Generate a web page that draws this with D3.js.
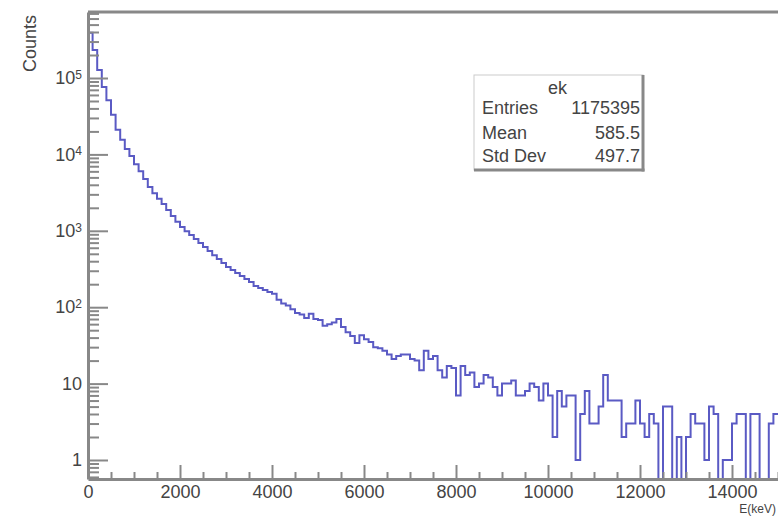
<!DOCTYPE html>
<html>
<head>
<meta charset="utf-8">
<script src="https://cdn.jsdelivr.net/npm/d3@7"></script>
<style>
  body { margin: 0; background: #fff; }
  text { font-family: "Liberation Sans", Arial, sans-serif; }
</style>
</head>
<body>
<svg id="chart"></svg>
<script>
// bin contents, 100 keV bins from 0 to 15000 keV
const binCounts = [
  390000, 233000, 127000, 76000, 51000, 33000, 21000, 15500, 11800, 9500,
  7450, 6000, 4750, 3740, 3100, 2620, 2240, 1870, 1560, 1310,
  1120, 990, 880, 780, 690, 615, 545, 480, 427, 380,
  336, 307, 280, 256, 234, 214, 190, 178, 168, 158,
  150, 125, 112, 105, 94, 84, 80, 72, 82, 70,
  68, 57, 60, 63, 70, 55, 47, 42, 34, 43,
  38, 35, 30, 29, 27, 24, 21, 23, 24, 24,
  21, 20, 15, 27, 21, 23, 15, 12, 17, 16,
  7, 17, 13, 14, 9, 10, 13, 12, 9, 7,
  10, 10, 11, 7, 7, 8, 10, 9, 6, 10,
  7, 2, 8, 5, 7, 7, 1, 4, 8, 3,
  3, 5, 13, 6, 6, 6, 2, 3, 3, 6,
  3, 2, 4, 3, 0, 5, 5, 0, 2, 0,
  2, 4, 3, 3, 1, 5, 4, 0, 1, 1,
  3, 4, 4, 0, 4, 4, 0, 0, 3, 4
];
const xRange = [0, 15000];
const yRange = [0.564, 731000];
const xLabelTicks = [0, 2000, 4000, 6000, 8000, 10000, 12000, 14000];
const yDecades = [1, 10, 100, 1000, 10000, 100000];
const statsTitle = "ek";
const statsNames = ["Entries", "Mean", "Std Dev"];
const statsValues = ["1175395", "585.5", "497.7"];
const xTitle = "E(keV)";
const yTitle = "Counts";

const width = 778, height = 517;
const frame = { left: 88, right: 778, top: 12, bottom: 479 };
const axisColor = "#888";
const textColor = "#444";
const fontSize = 18;

const svg = d3.select("#chart").attr("width", width).attr("height", height);

const x = d3.scaleLinear().domain(xRange).range([frame.left, frame.right]);
const y = d3.scaleLog().domain(yRange).range([frame.bottom, frame.top]);

svg.append("defs").append("clipPath").attr("id", "frameClip")
  .append("rect")
  .attr("x", frame.left).attr("y", frame.top)
  .attr("width", frame.right - frame.left)
  .attr("height", frame.bottom - frame.top);

// histogram outline
const binW = (xRange[1] - xRange[0]) / binCounts.length;
const pts = [[xRange[0], 0]];
binCounts.forEach((c, i) => pts.push([xRange[0] + i * binW, c]));
pts.push([xRange[1], binCounts[binCounts.length - 1]]);

const histLine = d3.line()
  .x(d => x(d[0]))
  .y(d => (d[1] > 0 ? y(d[1]) : frame.bottom + 5))
  .curve(d3.curveStepAfter);

svg.append("path")
  .datum(pts)
  .attr("clip-path", "url(#frameClip)")
  .attr("d", histLine)
  .attr("fill", "none")
  .attr("stroke", "#5a5ac4")
  .attr("stroke-width", 2);

// x axis
const xMinor = d3.range(xRange[0], xRange[1] + 1, 500).filter(v => v % 2000 !== 0);
svg.append("g")
  .attr("transform", `translate(0,${frame.bottom})`)
  .call(d3.axisBottom(x).tickValues(xMinor).tickSize(-7).tickSizeOuter(0).tickFormat(""))
  .call(g => g.select(".domain").remove());

const gx = svg.append("g")
  .attr("transform", `translate(0,${frame.bottom})`)
  .call(d3.axisBottom(x).tickValues(xLabelTicks).tickSize(-14).tickSizeOuter(0)
    .tickPadding(6).tickFormat(d3.format("d")));

// y axis
const yMinor = [];
[0.1, 1, 10, 100, 1000, 10000, 100000].forEach(d => {
  for (let k = 2; k <= 9; k++) {
    const v = d * k;
    if (v >= yRange[0] && v <= yRange[1]) yMinor.push(v);
  }
});
svg.append("g")
  .attr("transform", `translate(${frame.left},0)`)
  .call(d3.axisLeft(y).tickValues(yMinor).tickSize(-11).tickSizeOuter(0).tickFormat(""))
  .call(g => g.select(".domain").remove());

const gy = svg.append("g")
  .attr("transform", `translate(${frame.left},0)`)
  .call(d3.axisLeft(y).tickValues(yDecades).tickSize(-20).tickSizeOuter(0).tickPadding(6));

gy.selectAll(".tick text").each(function (d) {
  const t = d3.select(this).text("");
  const exp = Math.round(Math.log10(d));
  if (exp === 0) t.append("tspan").text("1");
  else if (exp === 1) t.append("tspan").text("10");
  else {
    t.append("tspan").text("10");
    t.append("tspan").attr("dy", "-0.45em").attr("font-size", 12).text(exp);
  }
});

[gx, gy].forEach(g => {
  g.attr("font-size", null).attr("font-family", null);
  g.select(".domain").attr("stroke", axisColor).attr("stroke-width", 3);
  g.selectAll(".tick text").attr("fill", textColor).attr("font-size", fontSize);
});
svg.selectAll("g .tick line").attr("stroke", axisColor).attr("stroke-width", 2);

// top frame line
svg.append("line")
  .attr("x1", frame.left).attr("x2", frame.right)
  .attr("y1", frame.top).attr("y2", frame.top)
  .attr("stroke", axisColor).attr("stroke-width", 3);

// axis titles
svg.append("text")
  .attr("transform", `translate(36,${frame.top + 3}) rotate(-90)`)
  .attr("text-anchor", "end")
  .attr("font-size", fontSize)
  .attr("fill", textColor)
  .text(yTitle);

svg.append("text")
  .attr("x", 776).attr("y", 513)
  .attr("text-anchor", "end")
  .attr("font-size", 12)
  .attr("fill", textColor)
  .text(xTitle);

// stats box
const box = { x: 474, y: 75, w: 169, h: 95 };
const stats = svg.append("g");
stats.append("rect")
  .attr("x", box.x).attr("y", box.y).attr("width", box.w).attr("height", box.h)
  .attr("fill", "#fff").attr("stroke", "#ccc").attr("stroke-width", 1);
stats.append("line")
  .attr("x1", box.x).attr("x2", box.x + box.w + 1.5)
  .attr("y1", box.y + box.h).attr("y2", box.y + box.h)
  .attr("stroke", axisColor).attr("stroke-width", 3);
stats.append("line")
  .attr("x1", box.x + box.w).attr("x2", box.x + box.w)
  .attr("y1", box.y).attr("y2", box.y + box.h + 1.5)
  .attr("stroke", axisColor).attr("stroke-width", 3);

stats.append("text")
  .attr("x", box.x + box.w / 2 - 1).attr("y", 94)
  .attr("text-anchor", "middle")
  .attr("font-size", fontSize).attr("fill", textColor)
  .text(statsTitle);

const rowY = [114, 139, 162];
stats.selectAll("text.name")
  .data(statsNames)
  .join("text")
  .attr("class", "name")
  .attr("x", 482).attr("y", (d, i) => rowY[i])
  .attr("font-size", fontSize).attr("fill", textColor)
  .text(d => d);
stats.selectAll("text.value")
  .data(statsValues)
  .join("text")
  .attr("class", "value")
  .attr("x", 640).attr("y", (d, i) => rowY[i])
  .attr("text-anchor", "end")
  .attr("font-size", fontSize).attr("fill", textColor)
  .text(d => d);
</script>
</body>
</html>
